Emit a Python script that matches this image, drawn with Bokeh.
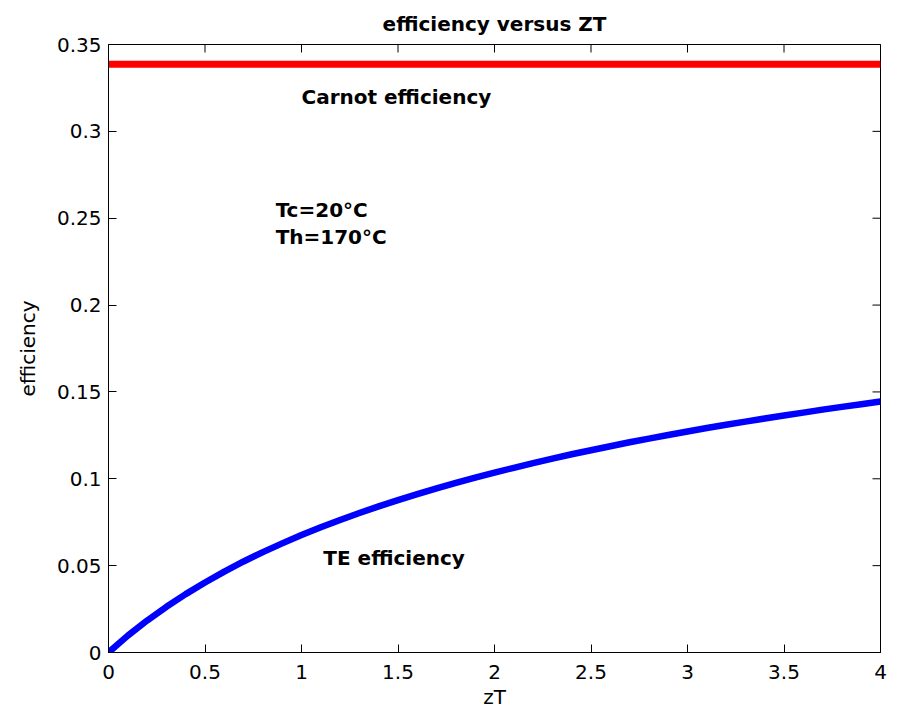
import math
from bokeh.plotting import figure
from bokeh.models import FixedTicker, Label
from bokeh.embed import file_html
from bokeh.resources import INLINE

# ---- data ----
zt = [0.0, 0.1, 0.2, 0.3, 0.4, 0.5, 0.6, 0.7, 0.8, 0.9,
      1.0, 1.1, 1.2, 1.3, 1.4, 1.5, 1.6, 1.7, 1.8, 1.9,
      2.0, 2.1, 2.2, 2.3, 2.4, 2.5, 2.6, 2.7, 2.8, 2.9,
      3.0, 3.1, 3.2, 3.3, 3.4, 3.5, 3.6, 3.7, 3.8, 3.9, 4.0]
te_eff = [0.0, 0.0097, 0.0184, 0.0263, 0.0336, 0.0403, 0.0466, 0.0524, 0.0578, 0.0628,
          0.0676, 0.0721, 0.0763, 0.0803, 0.0841, 0.0877, 0.0912, 0.0945, 0.0977, 0.1007,
          0.1036, 0.1063, 0.1090, 0.1116, 0.1141, 0.1164, 0.1187, 0.1210, 0.1231, 0.1252,
          0.1272, 0.1292, 0.1311, 0.1329, 0.1347, 0.1364, 0.1381, 0.1398, 0.1414, 0.1429, 0.1445]
carnot_x = [0.0, 4.0]
carnot_eff = [0.3386, 0.3386]

x_ticks = [0, 0.5, 1, 1.5, 2, 2.5, 3, 3.5, 4]
x_tick_labels = ["0", "0.5", "1", "1.5", "2", "2.5", "3", "3.5", "4"]
y_ticks = [0, 0.05, 0.1, 0.15, 0.2, 0.25, 0.3, 0.35]
y_tick_labels = ["0", "0.05", "0.1", "0.15", "0.2", "0.25", "0.3", "0.35"]

title_text = "efficiency versus ZT"
x_label = "zT"
y_label = "efficiency"
annotations = [
    ("Carnot efficiency", 1.0, 0.3195),
    ("Tc=20°C", 0.866, 0.2549),
    ("Th=170°C", 0.866, 0.2390),
    ("TE efficiency", 1.113, 0.0544),
]

FONT = "DejaVu Sans"
x_min, x_max = x_ticks[0], x_ticks[-1]
y_min, y_max = y_ticks[0], y_ticks[-1]

p = figure(output_backend="svg", toolbar_location=None,
           frame_width=772, frame_height=608,
           min_border_left=108, min_border_right=19,
           min_border_top=43, min_border_bottom=64,
           x_range=(x_min, x_max), y_range=(y_min, y_max),
           title=title_text)
p.background_fill_color = "white"
p.border_fill_color = "white"
p.outline_line_color = "black"
p.outline_line_width = 1
p.xgrid.visible = False
p.ygrid.visible = False

p.title.align = "center"
p.title.text_font = FONT
p.title.text_font_size = "20px"
p.title.text_font_style = "bold"
p.title.text_color = "black"
p.title.standoff = 18


def style_axis(ax, ticks, labels):
    ax.ticker = FixedTicker(ticks=ticks)
    ax.major_label_overrides = {t: s for t, s in zip(ticks, labels)}
    ax.major_tick_in = 8
    ax.major_tick_out = 0
    ax.minor_tick_line_color = None
    ax.axis_line_color = "black"
    ax.major_tick_line_color = "black"
    ax.major_label_text_font = FONT
    ax.major_label_text_font_size = "20px"
    ax.major_label_text_color = "black"
    ax.axis_label_text_font = FONT
    ax.axis_label_text_font_style = "normal"
    ax.axis_label_text_font_size = "20px"
    ax.axis_label_text_color = "black"


style_axis(p.xaxis[0], x_ticks, x_tick_labels)
style_axis(p.yaxis[0], y_ticks, y_tick_labels)
p.xaxis[0].axis_label = x_label
p.yaxis[0].axis_label = y_label
p.xaxis[0].major_label_standoff = 12
p.yaxis[0].major_label_standoff = 7
p.xaxis[0].axis_label_standoff = 3
p.yaxis[0].axis_label_standoff = 14

# mirrored inward ticks on the top and right edges (half of each dash is clipped by the frame)
p.scatter(x_ticks, [y_max] * len(x_ticks), marker="dash", angle=math.pi / 2, size=16,
          line_color="black", line_width=1)
p.scatter([x_max] * len(y_ticks), y_ticks, marker="dash", size=16,
          line_color="black", line_width=1)

p.line(carnot_x, carnot_eff, line_color="#ff0000", line_width=7)
p.line(zt, te_eff, line_color="#0000ff", line_width=6.5, line_join="round")

for txt, xv, yv in annotations:
    p.add_layout(Label(x=xv, y=yv, text=txt, text_font=FONT, text_font_size="20px",
                       text_font_style="bold", text_color="black",
                       text_baseline="alphabetic", text_align="left"))

open("out.html", "w").write(file_html(p, INLINE))
